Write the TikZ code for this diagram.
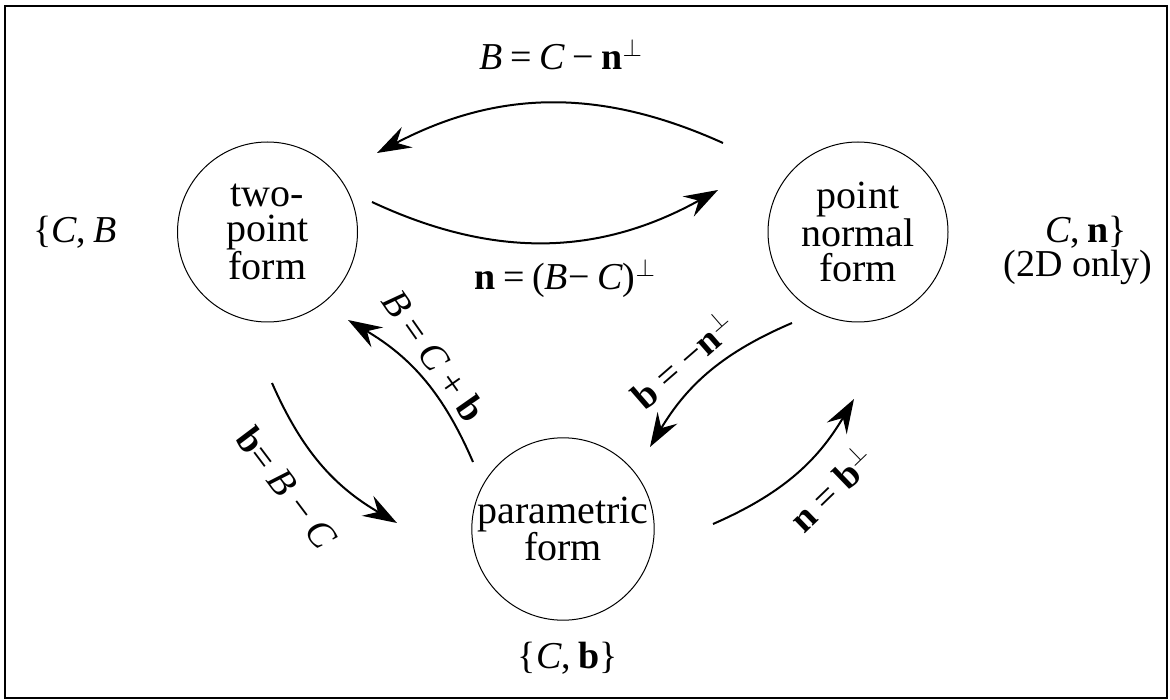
\documentclass[tikz,border=0pt]{standalone}
\usepackage{fontspec}
\setmainfont{Liberation Serif}
\usetikzlibrary{arrows.meta}
\tikzset{
  formcircle/.style={draw, circle, line width=1pt, minimum size=180pt, inner sep=0pt, align=center, font=\fontsize{40}{35}\selectfont},
  conn/.style={line width=2pt, -{Stealth[length=34pt,width=23pt,inset=12pt]}},
  lbl/.style={inner sep=0pt},
}
\newcommand{\pp}{\raisebox{4pt}{$^{\perp}$}}
\begin{document}
\begin{tikzpicture}[x=1pt,y=-1pt, font=\fontsize{38}{35}\selectfont]
\useasboundingbox (0,0) rectangle (1170,700);
\draw[line width=2pt] (5,6) rectangle (1167,698);

\node[formcircle] (tp) at (267.5,232) {two-\\point\\form};
\node[formcircle] (pn) at (858,232) {point\\normal\\form};
\node[formcircle] (pf) at (563,529) {parametric\\form};

% arrow end points
\coordinate (a1s) at (723,143); \coordinate (a1e) at (377,153);
\coordinate (a2s) at (372,202); \coordinate (a2e) at (718,190);
\coordinate (a3s) at (473,462); \coordinate (a3e) at (348,320);
\coordinate (a4s) at (272,383); \coordinate (a4e) at (397,523);
\coordinate (a5s) at (792,323); \coordinate (a5e) at (650,447);
\coordinate (a6s) at (713,524); \coordinate (a6e) at (854,399);

\draw[conn] (a1s) to[bend right=26] (a1e);
\draw[conn] (a2s) to[bend right=27] (a2e);
\draw[conn] (a3s) to[bend right=18] (a3e);
\draw[conn] (a4s) to[bend right=18] (a4e);
\draw[conn] (a5s) to[bend right=18] (a5e);
\draw[conn] (a6s) to[bend right=18] (a6e);

\node[lbl, anchor=base] (l1) at (561,70) {\textit{B}\hspace{0.2em}=\hspace{0.2em}\textit{C}\hspace{0.2em}−\hspace{0.2em}\textbf{n}\pp};
\node[lbl, anchor=base] (l2) at (565,290) {\textbf{n}\hspace{0.2em}=\hspace{0.2em}(\textit{B}−\hspace{0.2em}\textit{C})\pp};
\node[lbl, rotate=-55] (l3) at (434,356) {\textit{B} = \textit{C} + \textbf{b}};
\node[lbl, rotate=-53] (l4) at (287,488) {\textbf{b}= \textit{B} − \textit{C}};
\node[lbl, rotate=41] (l5) at (682,360) {\textbf{b} = −\textbf{n}\pp};
\node[lbl, rotate=44] (l6) at (831,488) {\textbf{n} = \textbf{b}\pp};

\node[lbl, anchor=base west] (s1) at (33,243) {\{\textit{C},\hspace{0.2em}\textit{B}};
\node[lbl, anchor=base] (s2) at (1086,243) {\textit{C},\hspace{0.2em}\textbf{n}\}};
\node[lbl, anchor=base] (s3) at (1078,277) {(2D only)};
\node[lbl, anchor=base] (s4) at (568,668) {\{\textit{C},\hspace{0.2em}\textbf{b}\}};
\end{tikzpicture}
\end{document}
